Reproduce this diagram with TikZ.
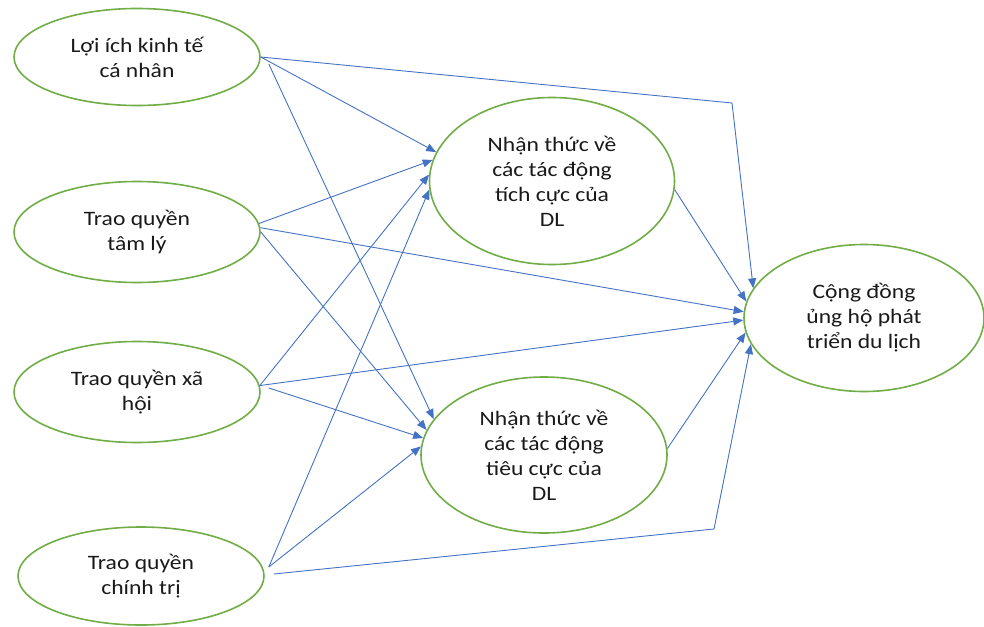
\documentclass[tikz,border=0pt]{standalone}
\usepackage{fontspec}
\setmainfont[FakeStretch=1.15]{Carlito}
\usetikzlibrary{shapes.geometric,arrows.meta}
\definecolor{ellgreen}{HTML}{70AD47}
\definecolor{arrblue}{HTML}{4472C4}
\begin{document}
\begin{tikzpicture}[x=1pt,y=-1pt,
  ell/.style={ellipse, draw=ellgreen, line width=1.6pt, inner sep=0pt, align=center,
    font=\fontsize{20.5}{25}\selectfont, text=black!90},
  conn/.style={draw=arrblue, line width=0.9pt, -{Triangle[length=10pt,width=8pt]}},
  seg/.style={draw=arrblue, line width=0.9pt}]
\useasboundingbox (0,0) rectangle (984,626);
% ellipses
\node[ell, minimum width=246pt, minimum height=97pt] (e1) at (137,57) {Lợi ích kinh tế\\cá nhân};
\node[ell, minimum width=246pt, minimum height=101pt] (e2) at (137,232) {Trao quyền\\tâm lý};
\node[ell, minimum width=246pt, minimum height=101pt] (e3) at (137,392) {Trao quyền xã\\hội};
\node[ell, minimum width=246pt, minimum height=98pt] (e4) at (141,576) {Trao quyền\\chính trị};
\node[ell, minimum width=245pt, minimum height=167pt] (e5) at (552,181) {Nhận thức về\\các tác động\\tích cực của\\DL};
\node[ell, minimum width=246pt, minimum height=156pt] (e6) at (544,455) {Nhận thức về\\các tác động\\tiêu cực của\\DL};
\node[ell, minimum width=240pt, minimum height=147pt] (e7) at (864,318) {Cộng đồng\\ủng hộ phát\\triển du lịch};
% bend points
\coordinate (b1) at (732,103);
\coordinate (b2) at (714,529);
% from e1
\draw[seg] (e1.east) -- (b1);
\draw[conn] (b1) -- (e7.165);
\draw[conn] (e1.east) -- (e5.166);
\draw[conn] ([shift={(8,7)}]e1.east) -- (e6.162);
% from e2
\draw[conn] (e2.4) -- (e5.170);
\draw[conn] (e2.2) -- (e7.177);
\draw[conn] (e2.east) -- (e6.168);
% from e3
\draw[conn] (e3.3) -- (e5.177);
\draw[conn] (e3.3) -- (e7.181);
\draw[conn] ([shift={(8,-4)}]e3.east) -- (e6.172);
% from e4
\draw[conn] ([shift={(4,-9)}]e4.east) -- (e5.184);
\draw[conn] ([shift={(4,-9)}]e4.east) -- (e6.176);
\draw[seg] ([shift={(9,-2)}]e4.east) -- (b2);
\draw[conn] (b2) -- (e7.193);
% mediators
\draw[conn] (e5.-4) -- (e7.172);
\draw[conn] (e6.3) -- (e7.187);
\end{tikzpicture}
\end{document}
